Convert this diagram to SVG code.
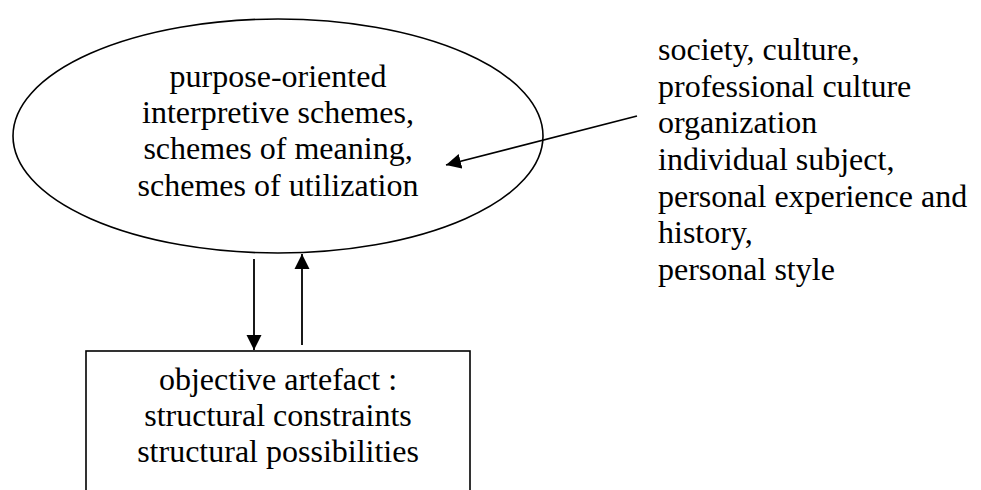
<svg xmlns="http://www.w3.org/2000/svg" width="981" height="490" viewBox="0 0 981 490">
  <style>
    .shape { fill: #ffffff; stroke: #000000; stroke-width: 1.6; }
    text { font-size: 32px; fill: #000000; }
    .mid { text-anchor: middle; }
    .link { fill: none; stroke: #000000; stroke-width: 1.8; marker-end: url(#arrowhead); }
  </style>
  <defs>
    <marker id="arrowhead" markerUnits="userSpaceOnUse" markerWidth="16" markerHeight="16" viewBox="0 0 16 16" refX="15" refY="8" orient="auto">
      <path d="M0,0.5 L15,8 L0,15.5 Z" fill="#000000"/>
    </marker>
  </defs>
  <rect width="981" height="490" fill="#ffffff"/>

  <g font-family="Liberation Serif, Tinos, DejaVu Serif, serif">
    <!-- interpretive schemes (ellipse) -->
    <g id="schemes">
      <ellipse class="shape" cx="278" cy="136" rx="265" ry="117"/>
      <text class="mid" x="278" y="87">purpose-oriented</text>
      <text class="mid" x="278" y="123">interpretive schemes,</text>
      <text class="mid" x="278" y="159">schemes of meaning,</text>
      <text class="mid" x="278" y="196">schemes of utilization</text>
    </g>

    <!-- objective artefact (box, runs off the bottom edge) -->
    <g id="artefact">
      <rect class="shape" x="86" y="351" width="384" height="160"/>
      <text class="mid" x="278" y="390">objective artefact :</text>
      <text class="mid" x="278" y="426">structural constraints</text>
      <text class="mid" x="278" y="462">structural possibilities</text>
    </g>

    <!-- influencing contexts -->
    <g id="contexts">
      <text x="658" y="60">society, culture,</text>
      <text x="658" y="96.7">professional culture</text>
      <text x="658" y="133.3">organization</text>
      <text x="658" y="170">individual subject,</text>
      <text x="658" y="206.7">personal experience and</text>
      <text x="658" y="243.3">history,</text>
      <text x="658" y="280">personal style</text>
    </g>
  </g>

  <g id="connectors">
    <line class="link" x1="254" y1="259" x2="254" y2="350"/>
    <line class="link" x1="302" y1="345" x2="302" y2="254"/>
    <line class="link" x1="637" y1="116" x2="446" y2="165"/>
  </g>
</svg>
